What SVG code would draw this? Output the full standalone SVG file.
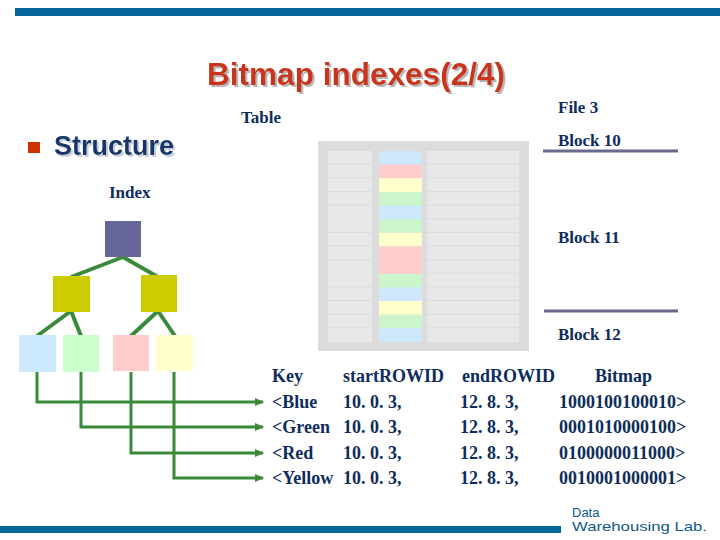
<svg xmlns="http://www.w3.org/2000/svg" width="720" height="540" viewBox="0 0 720 540">
<defs>
<style>
.tb{font-family:"Liberation Serif","Times New Roman",serif;font-weight:bold;fill:#0E2D5C;font-size:17px}
.row{font-family:"Liberation Serif","Times New Roman",serif;font-weight:bold;fill:#0E2D5C;font-size:18px}
.cell{fill:#E8E8E8}
.edge{stroke:#3A8A3A;stroke-width:4;fill:none}
.arr{stroke:#3A8A3A;stroke-width:3;fill:none}
.blk{stroke:#6B6A8F;stroke-width:3}
</style>
<filter id="sh" x="-5%" y="-20%" width="115%" height="150%">
<feOffset in="SourceAlpha" dx="2" dy="2" result="o"/>
<feFlood flood-color="#B8B8B8"/>
<feComposite operator="in" in2="o" result="s"/>
<feMerge><feMergeNode in="s"/><feMergeNode in="SourceGraphic"/></feMerge>
</filter>
<filter id="sh2" x="-5%" y="-20%" width="115%" height="150%">
<feOffset in="SourceAlpha" dx="2" dy="2" result="o"/>
<feFlood flood-color="#C9CEDC"/>
<feComposite operator="in" in2="o" result="s"/>
<feMerge><feMergeNode in="s"/><feMergeNode in="SourceGraphic"/></feMerge>
</filter>
<marker id="ah" markerUnits="userSpaceOnUse" markerWidth="10" markerHeight="10" refX="8" refY="5" orient="auto">
<path d="M0,1 L9,5 L0,9 Z" fill="#3A8A3A"/>
</marker>
</defs>
<rect width="720" height="540" fill="#FFFFFF"/>
<g id="top-bar"><rect x="15" y="8" width="705" height="8" fill="#05669A"/></g>
<g id="title">
<text x="207" y="85" font-family="'Liberation Sans',Arial,sans-serif" font-weight="bold" font-size="31" fill="#C8361A" textLength="298" lengthAdjust="spacingAndGlyphs" filter="url(#sh)">Bitmap indexes(2/4)</text>
</g>
<g id="structure">
<rect x="28" y="142" width="12" height="11" fill="#CC3300"/>
<text x="54" y="155" font-family="'Liberation Sans',Arial,sans-serif" font-weight="bold" font-size="27" fill="#12356A" filter="url(#sh2)">Structure</text>
</g>
<g id="labels">
<text class="tb" x="241" y="123">Table</text>
<text class="tb" x="109" y="198">Index</text>
<text class="tb" x="558" y="113">File 3</text>
<text class="tb" x="558" y="146">Block 10</text>
<text class="tb" x="558" y="243">Block 11</text>
<text class="tb" x="558" y="340">Block 12</text>
</g>
<g id="block-lines">
<line class="blk" x1="543" y1="151" x2="678" y2="151"/>
<line class="blk" x1="544" y1="311" x2="678" y2="311"/>
</g>
<g id="table">
<rect x="318" y="141" width="211" height="210" fill="#DCDCDC"/>
<g id="table-left">
<rect class="cell" x="328" y="151" width="44" height="12.6"/>
<rect class="cell" x="328" y="164.6" width="44" height="12.7"/>
<rect class="cell" x="328" y="178.3" width="44" height="12.6"/>
<rect class="cell" x="328" y="191.9" width="44" height="12.7"/>
<rect class="cell" x="328" y="205.6" width="44" height="26.3"/>
<rect class="cell" x="328" y="232.9" width="44" height="12.6"/>
<rect class="cell" x="328" y="246.5" width="44" height="12.6"/>
<rect class="cell" x="328" y="260.1" width="44" height="26.3"/>
<rect class="cell" x="328" y="287.4" width="44" height="12.6"/>
<rect class="cell" x="328" y="301" width="44" height="12.7"/>
<rect class="cell" x="328" y="314.7" width="44" height="12.6"/>
<rect class="cell" x="328" y="328.3" width="44" height="13.7"/>
</g>
<g id="table-mid">
<rect x="379" y="151" width="43" height="13.6" fill="#CCE8FA"/>
<rect x="379" y="164.6" width="43" height="13.7" fill="#FFCCCC"/>
<rect x="379" y="178.3" width="43" height="13.6" fill="#FFFFCC"/>
<rect x="379" y="191.9" width="43" height="13.7" fill="#CCF5CC"/>
<rect x="379" y="205.6" width="43" height="13.6" fill="#CCE8FA"/>
<rect x="379" y="219.2" width="43" height="13.7" fill="#CCF5CC"/>
<rect x="379" y="232.9" width="43" height="13.6" fill="#FFFFCC"/>
<rect x="379" y="246.5" width="43" height="27.3" fill="#FFCCCC"/>
<rect x="379" y="273.8" width="43" height="13.6" fill="#CCF5CC"/>
<rect x="379" y="287.4" width="43" height="13.6" fill="#CCE8FA"/>
<rect x="379" y="301" width="43" height="13.7" fill="#FFFFCC"/>
<rect x="379" y="314.7" width="43" height="13.6" fill="#CCF5CC"/>
<rect x="379" y="328.3" width="43" height="13.7" fill="#CCE8FA"/>
</g>
<g id="table-right">
<rect class="cell" x="427" y="151" width="92" height="12.6"/>
<rect class="cell" x="427" y="164.6" width="92" height="12.7"/>
<rect class="cell" x="427" y="178.3" width="92" height="12.6"/>
<rect class="cell" x="427" y="191.9" width="92" height="12.7"/>
<rect class="cell" x="427" y="205.6" width="92" height="12.6"/>
<rect class="cell" x="427" y="219.2" width="92" height="12.7"/>
<rect class="cell" x="427" y="232.9" width="92" height="12.6"/>
<rect class="cell" x="427" y="246.5" width="92" height="12.6"/>
<rect class="cell" x="427" y="260.1" width="92" height="12.7"/>
<rect class="cell" x="427" y="273.8" width="92" height="12.6"/>
<rect class="cell" x="427" y="287.4" width="92" height="12.6"/>
<rect class="cell" x="427" y="301" width="92" height="12.7"/>
<rect class="cell" x="427" y="314.7" width="92" height="12.6"/>
<rect class="cell" x="427" y="328.3" width="92" height="13.7"/>
</g>
</g>
<g id="connectors">
<line class="edge" x1="123" y1="257" x2="71" y2="277"/>
<line class="edge" x1="123" y1="257" x2="158" y2="277"/>
<line class="edge" x1="71" y1="311" x2="37" y2="336"/>
<line class="edge" x1="71" y1="311" x2="81" y2="336"/>
<line class="edge" x1="158" y1="311" x2="131" y2="336"/>
<line class="edge" x1="158" y1="311" x2="175" y2="336"/>
<path class="arr" d="M37,372 V402 H263" marker-end="url(#ah)"/>
<path class="arr" d="M81,372 V427 H263" marker-end="url(#ah)"/>
<path class="arr" d="M131,372 V453 H263" marker-end="url(#ah)"/>
<path class="arr" d="M174,372 V478 H263" marker-end="url(#ah)"/>
</g>
<g id="root"><rect x="105" y="221" width="36" height="36" fill="#666699"/></g>
<g id="mid-left"><rect x="53" y="276" width="37" height="36" fill="#CCCC00"/></g>
<g id="mid-right"><rect x="141" y="275" width="36" height="37" fill="#CCCC00"/></g>
<g id="leaf-blue"><rect x="19" y="335" width="37" height="37" fill="#CCE9FF"/></g>
<g id="leaf-green"><rect x="63" y="335" width="36" height="37" fill="#CCFFCC"/></g>
<g id="leaf-red"><rect x="113" y="335" width="36" height="36" fill="#FFCCCC"/></g>
<g id="leaf-yellow"><rect x="156" y="335" width="37" height="36" fill="#FFFFCC"/></g>
<g id="bitmap-table">
<text class="row" x="272" y="382">Key</text>
<text class="row" x="343" y="382">startROWID</text>
<text class="row" x="462" y="382">endROWID</text>
<text class="row" x="595" y="382">Bitmap</text>
<text class="row" x="272" y="408">&lt;Blue</text>
<text class="row" x="343" y="408">10. 0. 3,</text>
<text class="row" x="460" y="408">12. 8. 3,</text>
<text class="row" x="559" y="408">1000100100010&gt;</text>
<text class="row" x="272" y="433">&lt;Green</text>
<text class="row" x="343" y="433">10. 0. 3,</text>
<text class="row" x="460" y="433">12. 8. 3,</text>
<text class="row" x="559" y="433">0001010000100&gt;</text>
<text class="row" x="272" y="459">&lt;Red</text>
<text class="row" x="343" y="459">10. 0. 3,</text>
<text class="row" x="460" y="459">12. 8. 3,</text>
<text class="row" x="559" y="459">0100000011000&gt;</text>
<text class="row" x="272" y="484">&lt;Yellow</text>
<text class="row" x="343" y="484">10. 0. 3,</text>
<text class="row" x="460" y="484">12. 8. 3,</text>
<text class="row" x="559" y="484">0010001000001&gt;</text>
</g>
<g id="footer">
<rect x="0" y="526" width="561" height="7" fill="#05669A"/>
<text x="572" y="517" font-family="'Liberation Sans',Arial,sans-serif" font-size="13" fill="#0D5A8A">Data</text>
<text x="572" y="531" font-family="'Liberation Sans',Arial,sans-serif" font-size="13" fill="#0D5A8A" textLength="135" lengthAdjust="spacingAndGlyphs">Warehousing Lab.</text>
</g>
</svg>
